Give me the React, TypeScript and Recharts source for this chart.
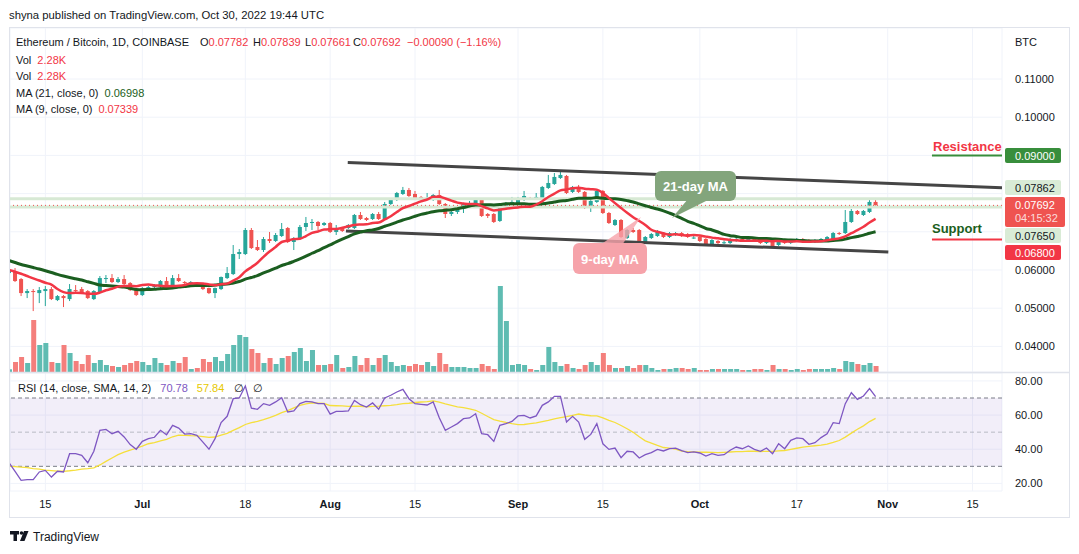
import React from "react";
import {
  ComposedChart,
  Bar,
  Line,
  XAxis,
  YAxis,
  CartesianGrid,
  ReferenceLine,
  ReferenceArea,
} from "recharts";

// ETH/BTC daily, Jun 9 .. Oct 30 2022 (index 0 = Jun 9)
const opens = [
  0.0592, 0.05973, 0.05763, 0.05396, 0.05449, 0.05396, 0.05449, 0.05501, 0.05213, 0.05318,
  0.05239, 0.05475, 0.05501, 0.05449, 0.05239, 0.05423, 0.05776, 0.05789, 0.05685, 0.05763,
  0.05658, 0.05501, 0.05344, 0.05501, 0.05554, 0.05554, 0.05711, 0.05606, 0.05789, 0.05685,
  0.05632, 0.05658, 0.05606, 0.05527, 0.05396, 0.05501, 0.05789, 0.05894, 0.06418, 0.06418,
  0.07047, 0.06602, 0.06523, 0.06811, 0.06759, 0.0689, 0.07099, 0.06733, 0.06811, 0.07126,
  0.0723, 0.07257, 0.07178, 0.0723, 0.06995, 0.07099, 0.07099, 0.07099, 0.0744, 0.07361,
  0.07335, 0.07466, 0.07335, 0.07728, 0.07833, 0.0799, 0.08095, 0.0799, 0.07912, 0.07859,
  0.07833, 0.07964, 0.07728, 0.07466, 0.07519, 0.07597, 0.07676, 0.07728, 0.07859, 0.07466,
  0.07466, 0.07283, 0.07623, 0.07728, 0.07728, 0.07885, 0.07885, 0.07885, 0.07885, 0.08147,
  0.08252, 0.08409, 0.08462, 0.08043, 0.08174, 0.08043, 0.0765, 0.07781, 0.08069, 0.07492,
  0.07178, 0.07309, 0.06837, 0.07047, 0.07047, 0.06733, 0.06837, 0.0689, 0.06968, 0.06864,
  0.06916, 0.06968, 0.06942, 0.06837, 0.06864, 0.06811, 0.0668, 0.06759, 0.0672, 0.06706,
  0.06759, 0.06811, 0.06759, 0.06811, 0.06785, 0.06706, 0.06759, 0.06654, 0.06759, 0.06706,
  0.06759, 0.06811, 0.06785, 0.06733, 0.06759, 0.06759, 0.06811, 0.06968, 0.06968, 0.07257,
  0.07545, 0.0744, 0.07519, 0.07782,
];
const highs = [
  0.06051, 0.06051, 0.05789, 0.05501, 0.05501, 0.05554, 0.0558, 0.05554, 0.05344, 0.05344,
  0.05632, 0.05606, 0.05554, 0.05475, 0.05475, 0.05842, 0.05868, 0.05894, 0.05816, 0.05868,
  0.05685, 0.05527, 0.05554, 0.0558, 0.05632, 0.05737, 0.05816, 0.05868, 0.05894, 0.05711,
  0.05711, 0.05685, 0.05632, 0.0554, 0.0554, 0.0583, 0.06078, 0.06654, 0.06549, 0.07099,
  0.07099, 0.06785, 0.06864, 0.06995, 0.06968, 0.0723, 0.07126, 0.06864, 0.07178, 0.07388,
  0.07335, 0.07283, 0.07257, 0.07257, 0.07178, 0.07126, 0.07204, 0.07466, 0.07519, 0.07388,
  0.07492, 0.07519, 0.07781, 0.07885, 0.08043, 0.08174, 0.08147, 0.08069, 0.07938, 0.08016,
  0.0799, 0.08095, 0.07754, 0.07571, 0.0765, 0.07754, 0.07807, 0.07885, 0.07885, 0.07492,
  0.07492, 0.07676, 0.07781, 0.07912, 0.07912, 0.08069, 0.07912, 0.08016, 0.082, 0.08488,
  0.0854, 0.08567, 0.08488, 0.082, 0.08226, 0.08069, 0.07833, 0.08095, 0.08095, 0.07519,
  0.07335, 0.07335, 0.07073, 0.07099, 0.07073, 0.0689, 0.06968, 0.07047, 0.06995, 0.06995,
  0.06995, 0.06995, 0.06968, 0.06916, 0.0689, 0.06837, 0.06811, 0.06785, 0.06772, 0.06837,
  0.06837, 0.06837, 0.06864, 0.06837, 0.06811, 0.06785, 0.06785, 0.06785, 0.06785, 0.06811,
  0.06837, 0.06837, 0.06811, 0.06811, 0.06837, 0.0689, 0.06995, 0.06995, 0.07571, 0.07597,
  0.07571, 0.07571, 0.07862, 0.07839,
];
const lows = [
  0.05868, 0.05685, 0.05318, 0.05265, 0.04925, 0.05134, 0.05056, 0.05213, 0.05187, 0.0503,
  0.05187, 0.05396, 0.0537, 0.05239, 0.05213, 0.05396, 0.05658, 0.05658, 0.05658, 0.05606,
  0.05449, 0.05318, 0.05318, 0.05475, 0.05527, 0.05527, 0.05554, 0.0558, 0.05685, 0.05632,
  0.05606, 0.05554, 0.05475, 0.0537, 0.05265, 0.05475, 0.05763, 0.05868, 0.06287, 0.06392,
  0.06549, 0.06497, 0.06471, 0.06706, 0.06733, 0.06864, 0.06706, 0.06523, 0.06785, 0.07021,
  0.07047, 0.07047, 0.07152, 0.06968, 0.06916, 0.06995, 0.07073, 0.07073, 0.07309, 0.07283,
  0.07309, 0.07309, 0.07309, 0.07702, 0.07807, 0.07964, 0.07912, 0.07859, 0.07807, 0.07833,
  0.07807, 0.07702, 0.07361, 0.07414, 0.07466, 0.07492, 0.07623, 0.07702, 0.07388, 0.07361,
  0.0723, 0.07257, 0.07571, 0.07702, 0.07702, 0.07807, 0.07833, 0.07859, 0.07859, 0.08121,
  0.08226, 0.08383, 0.0799, 0.08016, 0.08016, 0.07597, 0.07519, 0.07754, 0.07466, 0.07204,
  0.07152, 0.06837, 0.06811, 0.06968, 0.06706, 0.06706, 0.06811, 0.06864, 0.06837, 0.06837,
  0.0689, 0.06864, 0.06837, 0.06811, 0.06733, 0.06654, 0.06654, 0.0668, 0.0668, 0.0668,
  0.06733, 0.06733, 0.06733, 0.06733, 0.0668, 0.0668, 0.06575, 0.06628, 0.0668, 0.0668,
  0.06733, 0.06733, 0.06706, 0.06706, 0.06733, 0.06733, 0.06785, 0.06916, 0.06942, 0.0723,
  0.0744, 0.07414, 0.07492, 0.07661,
];
const closes = [
  0.05999, 0.05711, 0.05396, 0.05449, 0.05423, 0.05475, 0.05501, 0.05239, 0.05318, 0.05265,
  0.05501, 0.05449, 0.05396, 0.05265, 0.05449, 0.05789, 0.05789, 0.05685, 0.05763, 0.05632,
  0.05475, 0.05344, 0.05527, 0.05554, 0.05606, 0.05711, 0.0558, 0.05789, 0.05711, 0.05658,
  0.05685, 0.0558, 0.05501, 0.05396, 0.05527, 0.05816, 0.0592, 0.06418, 0.06471, 0.07047,
  0.06575, 0.06523, 0.06811, 0.06759, 0.06916, 0.07073, 0.06733, 0.06837, 0.07126, 0.0723,
  0.07257, 0.07152, 0.0723, 0.06995, 0.07099, 0.07021, 0.07178, 0.0744, 0.07335, 0.07309,
  0.07466, 0.07335, 0.07728, 0.07859, 0.08016, 0.08095, 0.07938, 0.07885, 0.07859, 0.07885,
  0.07964, 0.07728, 0.07466, 0.07519, 0.07623, 0.07728, 0.07754, 0.07859, 0.07414, 0.07414,
  0.07257, 0.0765, 0.07728, 0.07781, 0.07885, 0.07938, 0.07859, 0.07912, 0.08174, 0.08278,
  0.08436, 0.08488, 0.08016, 0.08174, 0.08043, 0.07623, 0.07807, 0.08069, 0.07492, 0.0723,
  0.07309, 0.06864, 0.07047, 0.06995, 0.06733, 0.06864, 0.06942, 0.07021, 0.06864, 0.06968,
  0.06968, 0.0689, 0.06864, 0.0685, 0.06759, 0.0668, 0.06785, 0.06706, 0.06726, 0.06811,
  0.06811, 0.06759, 0.06837, 0.06759, 0.06706, 0.06759, 0.06628, 0.06759, 0.06706, 0.06785,
  0.06811, 0.06759, 0.06733, 0.06785, 0.06811, 0.06864, 0.06968, 0.06942, 0.07257, 0.07545,
  0.07466, 0.07545, 0.07782, 0.07692,
];
// volume in thousands
const volumes = [
  1.03, 3.8, 5.7, 3.42, 19.76, 10.26, 11.02, 3.8, 3.42, 10.26,
  7.22, 4.18, 3.04, 6.46, 3.42, 4.56, 2.66, 2.28, 1.9, 2.66,
  3.42, 4.18, 3.8, 2.66, 5.32, 3.42, 2.66, 4.18, 3.42, 5.7,
  1.14, 1.52, 4.94, 3.8, 5.7, 4.18, 6.84, 10.26, 14.06, 13.3,
  8.74, 7.22, 3.42, 5.32, 3.04, 5.32, 6.08, 7.6, 9.12, 4.18,
  8.36, 2.66, 2.66, 3.04, 6.46, 1.52, 1.9, 6.08, 2.66, 5.32,
  2.66, 5.32, 6.46, 3.8, 2.28, 2.66, 2.28, 3.04, 2.66, 3.8,
  2.28, 7.22, 3.04, 1.9, 1.9, 1.9, 1.52, 1.52, 3.04, 2.28,
  1.14, 32.68, 19.38, 2.66, 3.04, 2.66, 1.14, 0.76, 2.66, 9.5,
  3.8, 2.28, 3.04, 1.52, 1.14, 2.66, 3.8, 2.66, 7.22, 2.66,
  1.52, 1.52, 2.28, 1.52, 2.66, 2.66, 1.52, 0.76, 1.14, 1.14,
  1.52, 1.52, 1.14, 1.52, 0.76, 0.76, 1.14, 1.14, 1.14, 1.14,
  1.14, 0.76, 0.76, 1.14, 1.14, 0.76, 2.66, 1.14, 1.14, 0.76,
  1.14, 0.76, 1.14, 1.14, 1.14, 1.14, 1.52, 1.14, 4.18, 3.8,
  3.04, 2.66, 3.42, 2.28,
];
const rsiValues = [
  32.1, 27.1, 21.8, 22.2, 22.2, 26.7, 27.6, 23.7, 27.1, 26.7,
  37.4, 37.4, 36.4, 32.1, 38.8, 51.1, 51.6, 49.1, 50.5, 47.2,
  42.7, 40.0, 44.6, 46.2, 47.0, 51.1, 48.5, 54.0, 52.4, 48.9,
  49.1, 48.1, 44.2, 40.0, 46.2, 55.6, 59.3, 69.6, 70.0, 77.0,
  64.1, 63.4, 66.7, 65.7, 67.7, 70.2, 61.8, 62.4, 66.7, 68.0,
  67.7, 66.7, 66.7, 60.6, 62.2, 62.2, 62.4, 68.6, 66.1, 64.7,
  67.1, 63.4, 70.0, 71.6, 73.5, 75.1, 69.6, 66.7, 66.3, 65.9,
  67.7, 58.4, 51.1, 53.0, 55.0, 57.9, 58.3, 60.8, 49.1, 48.5,
  44.6, 54.0, 55.0, 56.3, 59.5, 59.8, 58.3, 59.5, 65.7, 67.7,
  71.0, 71.0, 55.9, 59.3, 55.9, 45.8, 48.7, 55.0, 43.2, 39.9,
  40.7, 35.1, 38.8, 38.4, 34.9, 36.8, 38.0, 39.9, 39.0, 40.3,
  40.7, 39.2, 38.0, 38.4, 37.8, 36.0, 37.4, 36.4, 36.8, 39.4,
  41.3, 40.3, 41.9, 39.9, 38.8, 40.7, 37.4, 43.2, 40.3, 45.2,
  46.6, 46.2, 42.9, 43.8, 46.8, 49.1, 55.6, 55.0, 66.7, 73.1,
  69.2, 71.2, 75.5, 70.78,
];
// indicator values before a full window exists
const ma21Lead = [
  0.06248, 0.06196, 0.06143, 0.06104, 0.06065, 0.06025, 0.05981, 0.05934, 0.05886, 0.05842,
  0.05803, 0.05769, 0.05737, 0.05693, 0.05651, 0.05606, 0.05593, 0.0558, 0.05567, 0.05554,
];
const ma9Lead = [0.05999, 0.05955, 0.05902, 0.05842, 0.05782, 0.05724, 0.05666, 0.05619];
const rsiSmaLead = [30.0, 29.8, 29.5, 29.2, 28.7, 28.3, 27.8, 27.5, 27.2, 27.1, 27.4, 27.8, 28.3];

const timeTicks = [6, 22, 39, 53, 67, 84, 98, 114, 130, 145, 159];
const timeLabels = ["15", "Jul", "18", "Aug", "15", "Sep", "15", "Oct", "17", "Nov", "15"];
const priceTicks = [0.04, 0.05, 0.06, 0.07, 0.08, 0.09, 0.1, 0.11];
const hiddenPriceTicks = [0.07, 0.08, 0.09];
const rsiTicks = [20, 40, 60, 80];

// hand-drawn channel (index, price)
const upperChannel = [
  { x: 55.9, y: 0.08814 },
  { x: 163.86, y: 0.08155 },
];
const lowerChannel = [
  { x: 55.6, y: 0.07021 },
  { x: 145.1, y: 0.06471 },
];

const UP = "#26a69a";
const DOWN = "#ef5350";
const TEXT = "#131722";
const X_DOMAIN = [0.165, 163.86];
const PRICE_DOMAIN = [0.033298, 0.123351];
const VOL_DOMAIN = [0, 130.72];
const RSI_DOMAIN = [15.55, 84.64];

const sma = (vals: number[], n: number, lead: number[]) =>
  vals.map((_, i) =>
    i < lead.length ? lead[i] : vals.slice(i - n + 1, i + 1).reduce((a, b) => a + b, 0) / n
  );

const ma21 = sma(closes, 21, ma21Lead);
const ma9 = sma(closes, 9, ma9Lead);
const rsiSma = sma(rsiValues, 14, rsiSmaLead);

const rows = closes.map((c, i) => ({
  i,
  open: opens[i],
  high: highs[i],
  low: lows[i],
  close: c,
  range: [lows[i], highs[i]],
  up: c >= opens[i],
  vol: volumes[i],
  ma21: ma21[i],
  ma9: ma9[i],
  rsi: rsiValues[i],
  rsiSma: rsiSma[i],
}));

const Candle = (props: any) => {
  const { x, y, width, height, payload } = props;
  if (x == null || !payload) return null;
  const top = Math.min(y, y + height);
  const h = Math.abs(height);
  const span = payload.high - payload.low || 1e-9;
  const k = h / span;
  const yO = top + (payload.high - payload.open) * k;
  const yC = top + (payload.high - payload.close) * k;
  const color = payload.up ? UP : DOWN;
  const cx = x + width / 2;
  return (
    <g>
      <line x1={cx} x2={cx} y1={top} y2={top + h} stroke={color} strokeWidth={1} />
      <rect
        x={x}
        y={Math.min(yO, yC)}
        width={width}
        height={Math.max(1, Math.abs(yO - yC))}
        fill={color}
      />
    </g>
  );
};

const VolBar = (props: any) => {
  const { x, y, width, height, payload } = props;
  if (x == null || !payload) return null;
  return (
    <rect
      x={x}
      y={Math.min(y, y + height)}
      width={width}
      height={Math.max(1, Math.abs(height))}
      fill={payload.up ? "#5fbcb2" : "#f47f7c"}
    />
  );
};

const PriceTick = (props: any) => {
  const { x, y, payload } = props;
  if (hiddenPriceTicks.some((v) => Math.abs(v - payload.value) < 1e-9)) return <g />;
  return (
    <text x={x + 5} y={y + 4} fontSize={11} fill={TEXT}>
      {payload.value.toFixed(5)}
    </text>
  );
};

const RsiTick = (props: any) => {
  const { x, y, payload } = props;
  return (
    <text x={x + 5} y={y + 4} fontSize={11} fill={TEXT}>
      {payload.value.toFixed(2)}
    </text>
  );
};

const TimeTick = (props: any) => {
  const { x, y, payload } = props;
  const label = timeLabels[timeTicks.indexOf(payload.value)] ?? "";
  const bold = /^[A-Z]/.test(label);
  return (
    <text x={x} y={y + 9} textAnchor="middle" fontSize={11} fontWeight={bold ? 700 : 400} fill={TEXT}>
      {label}
    </text>
  );
};

function Txt({ x, y, children, style }: { x: number; y: number; children: React.ReactNode; style?: React.CSSProperties }) {
  return (
    <div
      style={{
        position: "absolute",
        left: x,
        top: y - 7,
        lineHeight: "14px",
        fontSize: 11,
        color: TEXT,
        whiteSpace: "nowrap",
        ...style,
      }}
    >
      {children}
    </div>
  );
}

export default function App() {
  const red = "#f23645";
  return (
    <div
      style={{
        position: "absolute",
        left: 0,
        top: 0,
        width: 1079,
        height: 554,
        background: "#fff",
        overflow: "hidden",
        fontFamily: '"Liberation Sans", Arial, sans-serif',
      }}
    >
      {/* price pane */}
      <div style={{ position: "absolute", left: 10, top: 28 }}>
        <ComposedChart width={1060} height={344} data={rows} margin={{ top: 0, right: 0, bottom: 0, left: 0 }}>
          <CartesianGrid xAxisId="p" yAxisId="price" stroke="#f0f3fa" />
          <XAxis xAxisId="p" dataKey="i" type="number" domain={X_DOMAIN} ticks={timeTicks} hide allowDataOverflow />
          <XAxis xAxisId="v" dataKey="i" type="number" domain={X_DOMAIN} hide allowDataOverflow />
          <YAxis
            yAxisId="price"
            orientation="right"
            width={68}
            domain={PRICE_DOMAIN}
            ticks={priceTicks}
            interval={0}
            allowDataOverflow
            axisLine={false}
            tickLine={false}
            tick={<PriceTick />}
          />
          <YAxis yAxisId="vol" hide domain={VOL_DOMAIN} allowDataOverflow />
          <Bar xAxisId="v" yAxisId="vol" dataKey="vol" barSize={5} shape={VolBar} isAnimationActive={false} />
          <ReferenceLine xAxisId="p" yAxisId="price" y={0.07862} stroke="#d7e9d4" strokeWidth={3} />
          <ReferenceLine xAxisId="p" yAxisId="price" y={0.0765} stroke="#d7e9d4" strokeWidth={3} />
          <ReferenceLine xAxisId="p" yAxisId="price" y={0.07692} stroke={DOWN} strokeDasharray="1 3" strokeWidth={1} />
          <ReferenceLine xAxisId="p" yAxisId="price" segment={upperChannel} stroke="#454545" strokeWidth={3} ifOverflow="hidden" />
          <ReferenceLine xAxisId="p" yAxisId="price" segment={lowerChannel} stroke="#454545" strokeWidth={3} ifOverflow="hidden" />
          <ReferenceLine
            xAxisId="p"
            yAxisId="price"
            segment={[{ x: 152.3, y: 0.09 }, { x: 163.86, y: 0.09 }]}
            stroke="#388e3c"
            strokeWidth={2}
          />
          <ReferenceLine
            xAxisId="p"
            yAxisId="price"
            segment={[{ x: 152.3, y: 0.068 }, { x: 163.86, y: 0.068 }]}
            stroke={red}
            strokeWidth={2}
          />
          <Bar xAxisId="p" yAxisId="price" dataKey="range" barSize={4} shape={Candle} isAnimationActive={false} />
          <Line xAxisId="p" yAxisId="price" dataKey="ma21" stroke="#1b5e20" strokeWidth={3} dot={false} type="monotone" isAnimationActive={false} />
          <Line xAxisId="p" yAxisId="price" dataKey="ma9" stroke="#f23645" strokeWidth={2.5} dot={false} type="monotone" isAnimationActive={false} />
        </ComposedChart>
      </div>

      {/* RSI pane + time axis */}
      <div style={{ position: "absolute", left: 10, top: 373 }}>
        <ComposedChart width={1060} height={146} data={rows} margin={{ top: 0, right: 0, bottom: 0, left: 0 }}>
          <CartesianGrid xAxisId="r" yAxisId="rsi" stroke="#f0f3fa" />
          <XAxis
            xAxisId="r"
            dataKey="i"
            type="number"
            domain={X_DOMAIN}
            ticks={timeTicks}
            interval={0}
            allowDataOverflow
            height={28}
            axisLine={false}
            tickLine={false}
            tick={<TimeTick />}
          />
          <YAxis
            yAxisId="rsi"
            orientation="right"
            width={68}
            domain={RSI_DOMAIN}
            ticks={rsiTicks}
            interval={0}
            allowDataOverflow
            axisLine={false}
            tickLine={false}
            tick={<RsiTick />}
          />
          <ReferenceArea xAxisId="r" yAxisId="rsi" y1={30} y2={70} fill="#7e57c2" fillOpacity={0.1} stroke="none" />
          <ReferenceLine xAxisId="r" yAxisId="rsi" y={70} stroke="#787b86" strokeDasharray="4 3" />
          <ReferenceLine xAxisId="r" yAxisId="rsi" y={50} stroke="#9598a1" strokeDasharray="4 3" strokeOpacity={0.6} />
          <ReferenceLine xAxisId="r" yAxisId="rsi" y={30} stroke="#787b86" strokeDasharray="4 3" />
          <Line xAxisId="r" yAxisId="rsi" dataKey="rsiSma" stroke="#f5df3c" strokeWidth={1.3} dot={false} type="linear" isAnimationActive={false} />
          <Line xAxisId="r" yAxisId="rsi" dataKey="rsi" stroke="#7e57c2" strokeWidth={1.3} dot={false} type="linear" isAnimationActive={false} />
        </ComposedChart>
      </div>

      {/* frame, axis markers, annotations */}
      <svg width={1079} height={554} style={{ position: "absolute", left: 0, top: 0, pointerEvents: "none" }}>
        <rect x={9.5} y={27.5} width={1060} height={490} fill="none" stroke="#e0e3eb" />
        <line x1={10} x2={1069} y1={372.5} y2={372.5} stroke="#e0e3eb" strokeWidth={1.5} />

        <text x={933} y={151} fontSize={13} fontWeight={700} fill={red}>Resistance</text>
        <text x={932} y={233} fontSize={13} fontWeight={700} fill="#1b5e20">Support</text>

        <rect x={1005} y={148} width={56} height={15} rx={2} fill="#388e3c" />
        <text x={1015} y={159.5} fontSize={11} fill="#fff">0.09000</text>
        <rect x={1005} y={180} width={56} height={15} rx={2} fill="#d9ebd6" />
        <text x={1015} y={191.5} fontSize={11} fill={TEXT}>0.07862</text>
        <rect x={1005} y={197} width={60} height={30} rx={2} fill={DOWN} />
        <text x={1015} y={208.5} fontSize={11} fill="#fff">0.07692</text>
        <text x={1015} y={222} fontSize={11} fill="#fff" fillOpacity={0.8}>04:15:32</text>
        <rect x={1005} y={228} width={56} height={15} rx={2} fill="#d9ebd6" />
        <text x={1015} y={239.5} fontSize={11} fill={TEXT}>0.07650</text>
        <rect x={1005} y={245} width={56} height={15} rx={2} fill={red} />
        <text x={1015} y={256.5} fontSize={11} fill="#fff">0.06800</text>
        <text x={1015} y={46} fontSize={11} fill={TEXT}>BTC</text>

        <polygon points="688,199 710,199 672,218" fill="#83a57c" />
        <rect x={655} y={171} width={81} height={30} rx={6} fill="#83a57c" />
        <text x={695.5} y={191} fontSize={13} fontWeight={700} fill="#fff" textAnchor="middle">21-day MA</text>

        <polygon points="600,245 622,245 641,217" fill="#f6a3aa" fillOpacity={0.8} />
        <rect x={573} y={243} width={74} height={31} rx={6} fill="#f6a3aa" />
        <text x={610} y={263.5} fontSize={13} fontWeight={700} fill="#fff" textAnchor="middle">9-day MA</text>

        <rect x={10} y={531} width={9} height={3.5} fill={TEXT} />
        <rect x={13.5} y={531} width={3.5} height={10} fill={TEXT} />
        <circle cx={21.5} cy={533} r={1.8} fill={TEXT} />
        <polygon points="24,531 28.5,531 24.5,541 20,541" fill={TEXT} />
        <text x={33} y={540.5} fontSize={12} fill={TEXT}>TradingView</text>
      </svg>

      {/* legends */}
      <Txt x={9} y={15} style={{ fontSize: 11.3 }}>shyna published on TradingView.com, Oct 30, 2022 19:44 UTC</Txt>
      <Txt x={16} y={42}>Ethereum / Bitcoin, 1D, COINBASE</Txt>
      <Txt x={200} y={42}>O<span style={{ color: red }}>0.07782</span></Txt>
      <Txt x={253} y={42}>H<span style={{ color: red }}>0.07839</span></Txt>
      <Txt x={305} y={42}>L<span style={{ color: red }}>0.07661</span></Txt>
      <Txt x={353} y={42}>C<span style={{ color: red }}>0.07692</span></Txt>
      <Txt x={407} y={42} style={{ color: red }}>−0.00090 (−1.16%)</Txt>
      <Txt x={16} y={59.5}>Vol <span style={{ color: red, marginLeft: 3 }}>2.28K</span></Txt>
      <Txt x={16} y={75.5}>Vol <span style={{ color: red, marginLeft: 3 }}>2.28K</span></Txt>
      <Txt x={16} y={92.5}>MA (21, close, 0)<span style={{ color: "#1b5e20", marginLeft: 6 }}>0.06998</span></Txt>
      <Txt x={16} y={108.5}>MA (9, close, 0)<span style={{ color: red, marginLeft: 6 }}>0.07339</span></Txt>
      <Txt x={18} y={388}>
        RSI (14, close, SMA, 14, 2)
        <span style={{ color: "#7e57c2", marginLeft: 9 }}>70.78</span>
        <span style={{ color: "#e6c800", marginLeft: 9 }}>57.84</span>
        <span style={{ marginLeft: 10 }}>∅</span>
        <span style={{ marginLeft: 9 }}>∅</span>
      </Txt>
    </div>
  );
}
